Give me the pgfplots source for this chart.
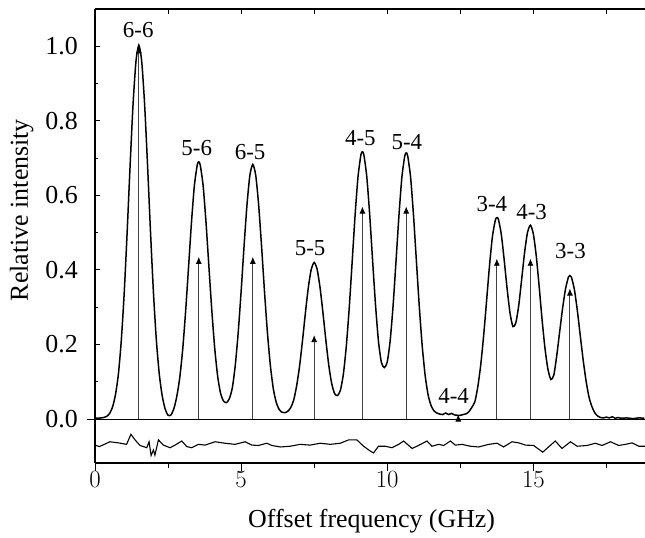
\documentclass[border=0pt]{standalone}
\usepackage{fontspec}
\setmainfont{Liberation Serif}
\usepackage{pgfplots}
\pgfplotsset{compat=1.18}
\usepackage{pgfplotstable}
\usetikzlibrary{arrows.meta}

% measured spectrum (offset frequency in GHz, relative intensity)
\pgfplotstableread{
x y
0.0 0.003
0.1 0.002
0.2 0.003
0.3 0.004
0.4 0.007
0.5 0.015
0.6 0.032
0.7 0.065
0.8 0.120
0.9 0.211
1.0 0.339
1.1 0.501
1.2 0.678
1.3 0.841
1.4 0.958
1.5 1.003
1.6 0.958
1.7 0.841
1.8 0.678
1.9 0.501
2.0 0.339
2.1 0.211
2.2 0.120
2.3 0.062
2.4 0.027
2.5 0.010
2.6 0.011
2.7 0.028
2.8 0.061
2.9 0.111
3.0 0.186
3.1 0.288
3.2 0.406
3.3 0.526
3.4 0.626
3.5 0.682
3.55 0.690
3.6 0.682
3.7 0.626
3.8 0.526
3.9 0.406
4.0 0.288
4.1 0.187
4.2 0.113
4.3 0.068
4.4 0.048
4.5 0.044
4.6 0.055
4.7 0.084
4.8 0.144
4.9 0.232
5.0 0.342
5.1 0.463
5.2 0.574
5.3 0.654
5.4 0.683
5.5 0.654
5.6 0.574
5.7 0.463
5.8 0.342
5.9 0.232
6.0 0.144
6.1 0.082
6.2 0.045
6.3 0.026
6.4 0.018
6.5 0.017
6.6 0.021
6.7 0.031
6.8 0.051
6.9 0.089
7.0 0.142
7.1 0.210
7.2 0.285
7.3 0.353
7.4 0.402
7.5 0.420
7.6 0.402
7.7 0.353
7.8 0.285
7.9 0.211
8.0 0.144
8.1 0.095
8.2 0.068
8.3 0.063
8.4 0.078
8.5 0.121
8.6 0.196
8.7 0.299
8.8 0.422
8.9 0.547
9.0 0.650
9.1 0.709
9.15 0.717
9.2 0.709
9.3 0.650
9.4 0.548
9.5 0.424
9.6 0.305
9.7 0.208
9.8 0.152
9.9 0.138
10.0 0.153
10.1 0.210
10.2 0.304
10.3 0.423
10.4 0.545
10.5 0.648
10.6 0.706
10.65 0.714
10.7 0.706
10.8 0.648
10.9 0.545
11.0 0.421
11.1 0.298
11.2 0.193
11.3 0.115
11.4 0.064
11.5 0.036
11.6 0.022
11.7 0.016
11.8 0.013
11.9 0.012
12.0 0.016
12.1 0.012
12.2 0.015
12.3 0.011
12.4 0.010
12.5 0.010
12.6 0.012
12.7 0.014
12.8 0.020
12.9 0.032
13.0 0.047
13.1 0.087
13.2 0.146
13.3 0.225
13.4 0.318
13.5 0.412
13.6 0.490
13.7 0.534
13.75 0.540
13.8 0.537
13.9 0.497
14.0 0.428
14.1 0.351
14.2 0.285
14.3 0.248
14.4 0.258
14.5 0.305
14.6 0.375
14.7 0.447
14.8 0.501
14.9 0.520
15.0 0.496
15.1 0.437
15.2 0.354
15.3 0.265
15.4 0.188
15.5 0.133
15.6 0.106
15.7 0.118
15.8 0.170
15.9 0.234
16.0 0.297
16.1 0.349
16.2 0.381
16.25 0.385
16.3 0.381
16.4 0.349
16.5 0.294
16.6 0.227
16.7 0.161
16.8 0.104
16.9 0.060
17.0 0.034
17.1 0.017
17.2 0.008
17.3 0.004
17.4 0.003
17.5 0.005
17.6 0.003
17.7 0.006
17.8 0.002
17.9 0.004
18.0 0.002
18.2 0.003
18.4 0.001
18.6 0.003
18.8 0.002
}\spectrum

% stick spectrum (line positions and strengths)
\pgfplotstableread{
x y v
1.5 0 1.0
3.55 0 0.435
5.4 0 0.435
7.5 0 0.225
9.15 0 0.57
10.65 0 0.57
12.43 0 0.012
13.75 0 0.43
14.9 0 0.43
16.25 0 0.35
}\sticks

% fit residual, drawn with an offset below zero
\pgfplotstableread{
x y
0.0 -0.070
0.15 -0.074
0.51 -0.061
0.80 -0.064
1.08 -0.068
1.23 -0.041
1.37 -0.056
1.54 -0.071
1.77 -0.077
1.85 -0.061
1.92 -0.098
2.0 -0.083
2.05 -0.097
2.17 -0.056
2.34 -0.070
2.57 -0.077
2.74 -0.070
2.97 -0.059
3.14 -0.074
3.31 -0.077
3.54 -0.068
3.77 -0.070
4.11 -0.061
4.45 -0.065
4.79 -0.068
5.14 -0.061
5.37 -0.070
5.59 -0.071
5.88 -0.065
6.05 -0.071
6.34 -0.075
6.68 -0.073
7.02 -0.068
7.36 -0.070
7.71 -0.065
8.05 -0.068
8.39 -0.065
8.68 -0.056
8.96 -0.056
9.19 -0.073
9.42 -0.086
9.53 -0.091
9.70 -0.073
9.93 -0.073
10.16 -0.077
10.39 -0.068
10.56 -0.059
10.85 -0.079
11.07 -0.071
11.36 -0.059
11.53 -0.073
11.76 -0.068
11.93 -0.071
12.16 -0.059
12.33 -0.070
12.56 -0.068
12.84 -0.073
13.13 -0.075
13.47 -0.068
13.76 -0.065
13.98 -0.075
14.27 -0.061
14.50 -0.064
14.73 -0.070
15.01 -0.071
15.32 -0.089
15.52 -0.075
15.75 -0.059
15.98 -0.079
16.27 -0.061
16.50 -0.073
16.84 -0.071
17.12 -0.065
17.35 -0.071
17.64 -0.061
17.92 -0.071
18.15 -0.068
18.38 -0.064
18.61 -0.073
18.82 -0.073
}\residual

\pgfplotsset{
  common/.style={
    scale only axis, width=550bp, height=454bp,
    xmin=0, xmax=18.82, ymin=-0.118, ymax=1.1,
    axis line style={line width=1.1bp},
    every tick/.style={black, line width=1bp},
    tick label style={font=\fontsize{26}{30}\selectfont},
    label style={font=\fontsize{26}{30}\selectfont},
  },
}

\begin{document}
\begin{tikzpicture}
\begin{axis}[common, name=ax,
    axis x line*=top, axis y line*=left,
    tick align=inside,
    xtick={0,2.5,5,7.5,10,12.5,15,17.5}, xticklabels={},
    major tick length=5bp, minor tick length=3bp,
    ytick={0,0.2,0.4,0.6,0.8,1.0},
    minor ytick={0.1,0.3,0.5,0.7,0.9},
    yticklabel style={anchor=east, inner sep=0pt, xshift=-17bp,
      /pgf/number format/.cd, fixed, fixed zerofill, precision=1, assume math mode=true},
    ylabel={Relative intensity},
    ylabel style={at={(axis description cs:-0.122,0.557)}, anchor=base},
    clip=false,
  ]
  \draw[line width=1bp] (axis cs:-0.28,0) -- (axis cs:18.82,0);
  \addplot[black!75, line width=0.8bp, quiver={u=0, v=\thisrow{v}},
    -{Latex[length=7bp, width=6bp, black]}] table[x=x, y=y] {\sticks};
  \addplot[black, line width=1.5bp, smooth, tension=0.4] table[x=x, y=y] {\spectrum};
  \addplot[black, line width=1.1bp] table[x=x, y=y] {\residual};
  \begin{scope}[every node/.style={anchor=base, inner sep=0pt, font=\fontsize{23}{27}\selectfont}]
    \node at (axis cs:1.48,1.024) {6-6};
    \node at (axis cs:3.48,0.708) {5-6};
    \node at (axis cs:5.31,0.696) {6-5};
    \node at (axis cs:7.36,0.440) {5-5};
    \node at (axis cs:9.08,0.735) {4-5};
    \node at (axis cs:10.67,0.723) {5-4};
    \node at (axis cs:12.27,0.042) {4-4};
    \node at (axis cs:13.58,0.556) {3-4};
    \node at (axis cs:14.94,0.534) {4-3};
    \node at (axis cs:16.27,0.431) {3-3};
  \end{scope}
\end{axis}
\begin{axis}[common,
    axis x line*=bottom, axis y line=none,
    tick align=outside,
    xtick={0,5,10,15}, minor xtick={2.5,7.5,12.5,17.5},
    major tick length=8bp, minor tick length=5bp,
    ytick=\empty,
    xticklabel style={anchor=north, inner sep=0pt},
    xlabel={Offset frequency (GHz)},
    xlabel style={at={(axis description cs:0.503,-0.141)}, anchor=base},
  ]
\end{axis}
\pgfresetboundingbox
\path ([shift={(-95bp,-75bp)}]ax.south west) rectangle ([shift={(0bp,9bp)}]ax.north east);
\end{tikzpicture}
\end{document}
